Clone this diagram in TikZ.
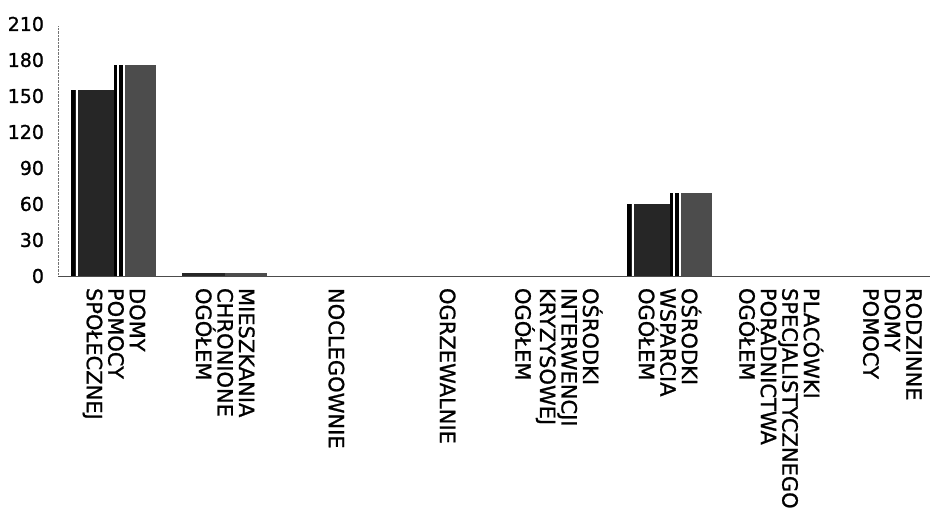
\documentclass[tikz,border=0pt]{standalone}
\usepackage{fontspec}
\setmainfont[FakeBold=1]{DejaVu Sans}
\usepackage{tikz}

\begin{document}
\begin{tikzpicture}[x=1pt,y=1pt,
            every node/.style={inner sep=0pt, outer sep=0pt},
            catlabel/.style={rotate=-90, anchor=west, align=left, font=\fontsize{21}{21.5}\selectfont},
            ticklabel/.style={anchor=east, font=\fontsize{19}{19}\selectfont},
            bardark/.style={fill=black!85},
            barlight/.style={fill=black!70}]
            \useasboundingbox (0,0) rectangle (935,517);
            \begin{scope}[yshift=241pt, y=1.2pt]
                \draw[black!55, densely dotted] (58,0) -- (58,208);
                \foreach \v in {0,30,...,210}
                    \node[ticklabel] (tick\v) at (44,\v) {\v};
                \foreach \k/\a/\b in {0/155/176, 1/2.5/2.5, 5/60/69} {
                    \pgfmathsetmacro\c{114+111.2*\k}
                    \fill[bardark] (\c-43,0) rectangle (\c,\a);
                    \fill[barlight] (\c,0) rectangle (\c+42,\b);
                }
                \foreach \k/\a/\b in {0/155/176, 5/60/69} {
                    \pgfmathsetmacro\c{114+111.2*\k}
                    \fill[black] (\c-43,0) rectangle (\c-39,\a);
                    \fill[white] (\c-38,0) rectangle (\c-36.5,\a);
                    \fill[black] (\c,0) rectangle (\c+2.5,\b);
                    \fill[white] (\c+2.5,0) rectangle (\c+4.5,\b);
                    \fill[black] (\c+4.5,0) rectangle (\c+9,\b);
                    \fill[white] (\c+9,0) rectangle (\c+10.5,\b);
                }
                \draw[black!70, line width=0.8pt] (58,0) -- (930,0);
            \end{scope}
            \node[catlabel] (dps) at (114,229) {DOMY\\POMOCY\\SPOŁECZNEJ};
            \node[catlabel] (mieszkania) at (225.2,229) {MIESZKANIA\\CHRONIONE\\OGÓŁEM};
            \node[catlabel] (noclegownie) at (336.4,229) {NOCLEGOWNIE};
            \node[catlabel] (ogrzewalnie) at (447.6,229) {OGRZEWALNIE};
            \node[catlabel] (interwencji) at (558.8,229) {OŚRODKI\\INTERWENCJI\\KRYZYSOWEJ\\OGÓŁEM};
            \node[catlabel] (wsparcia) at (670,229) {OŚRODKI\\WSPARCIA\\OGÓŁEM};
            \node[catlabel] (poradnictwa) at (781.2,229) {PLACÓWKI\\SPECJALISTYCZNEGO\\PORADNICTWA\\OGÓŁEM};
            \node[catlabel] (rodzinne) at (892.4,229) {RODZINNE\\DOMY\\POMOCY};
        \end{tikzpicture}
\end{document}
